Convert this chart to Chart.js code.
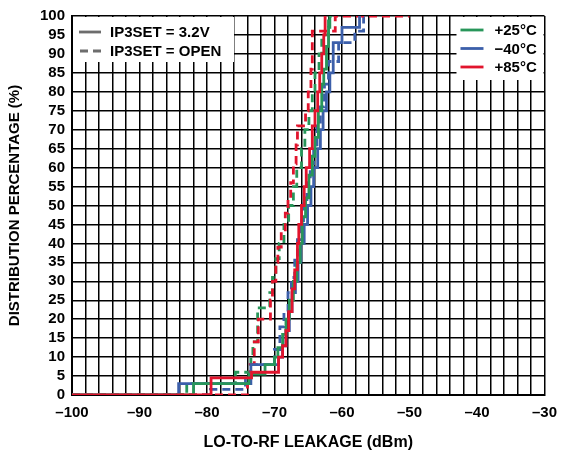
<!DOCTYPE html>
<html>
<head>
<meta charset="utf-8">
<script src="https://cdn.jsdelivr.net/npm/chart.js@4.4.1/dist/chart.umd.min.js"></script>
<style>
  html, body { margin: 0; padding: 0; background: #fff; }
  #wrap { width: 566px; height: 452px; position: relative; }
</style>
</head>
<body>
<div id="wrap"><canvas id="myChart" width="566" height="452"></canvas></div>
<script>
// Step CDF data (x = leakage dBm, y = cumulative %)
const green32X = [-100, -82, -73.8, -71.4, -70, -69.5, -68.8, -68.3, -67.8, -67.2, -66.7, -66.2, -65.9, -65.4, -64.9, -64.4, -64, -63.5, -63, -62.7, -62.3, -62, -61.8];
const green32Y = [0, 3, 5.5, 8, 10, 12.5, 16, 20, 25, 30, 35, 40, 47, 52, 58, 63, 68, 75, 82, 86, 92, 97, 100];

const blue32X = [-100, -84.2, -73.5, -69.4, -68.8, -68.3, -67.8, -67.4, -66.9, -66.5, -66.1, -65.6, -65.1, -64.6, -64.2, -63.6, -63.2, -62.8, -62.3, -61.8, -61.3, -60, -57.4];
const blue32Y = [0, 3, 8, 10, 13, 17, 22, 27, 30, 35, 40, 45, 50, 55, 60, 65, 70, 75, 80, 85, 93, 97, 100];

const red32X = [-100, -79.4, -73.4, -69.4, -68.8, -68.3, -67.9, -67.4, -67, -66.6, -66.4, -66, -65.6, -65.3, -64.8, -64.4, -64, -63.6, -63.3, -63, -62.7, -62.5, -62.3];
const red32Y = [0, 4.5, 6, 10, 13, 17, 22, 28, 33, 40, 45, 50, 55, 60, 65, 71, 75, 80, 85, 90, 95, 100, 100];

const greenOpenX = [-100, -83, -75.8, -73.5, -73.2, -72.5, -70.7, -70.3, -69.8, -69.3, -68.6, -67.9, -67.2, -66.7, -66, -65.5, -64.9, -64.4, -64, -63.4, -63, -62, -61.5];
const greenOpenY = [0, 3, 6, 10, 14, 23, 27, 31, 36, 40, 45, 50, 55, 60, 65, 70, 75, 80, 85, 90, 95, 100, 100];

const blueOpenX = [-100, -79.5, -74.3, -73.5, -70, -69.2, -68.6, -68, -67.5, -67, -66.6, -66.2, -65.7, -65.2, -64.7, -64.2, -63.7, -63.2, -62.6, -62, -60.5, -58.1, -56.8];
const blueOpenY = [0, 1.5, 4, 8, 12, 18, 22, 27, 31, 36, 41, 46, 51, 56, 61, 66, 71, 76, 82, 88, 93, 96, 100];

const redOpenX = [-100, -74, -73.6, -73, -72.4, -70.6, -70.3, -69.8, -69.5, -69, -68.4, -68, -67.6, -67.2, -66.8, -66.6, -65.4, -65, -64.6, -64.4, -61, -50];
const redOpenY = [0, 3, 8, 14, 20, 25, 30, 35, 39, 43, 48, 52, 56, 61, 66, 71, 75, 80, 86, 96, 100, 100];

const xTickLabels = [-100, -90, -80, -70, -60, -50, -40, -30];

const GREEN = "rgb(40, 150, 90)";
const BLUE = "rgb(60, 95, 170)";
const RED = "rgb(225, 20, 45)";
const FAMILY = "'Liberation Sans', Arial, sans-serif";

function pts(xs, ys) {
  return xs.map((x, i) => ({ x: x, y: ys[i] }));
}

function series(label, xs, ys, color, dashed) {
  return {
    label: label,
    data: pts(xs, ys),
    borderColor: color,
    backgroundColor: color,
    borderWidth: 2.8,
    borderDash: dashed ? [8, 5] : [],
    stepped: "before",
    pointRadius: 0,
    fill: false,
  };
}

const fontBold = { family: FAMILY, weight: "bold", size: 15 };

// Legend boxes drawn over the grid
const legendBoxes = {
  id: "legendBoxes",
  afterDatasetsDraw(chart) {
    const ctx = chart.ctx;
    const a = chart.chartArea;
    ctx.save();
    ctx.fillStyle = "#fff";
    ctx.fillRect(a.left + 1, a.top + 1, 161, 45);
    ctx.fillRect(a.right - 88, a.top + 1, 87, 63);
    ctx.font = "bold 15px " + FAMILY;
    ctx.textBaseline = "middle";
    ctx.lineWidth = 2.8;
    // line style legend
    ctx.strokeStyle = "#6d6d6d";
    ctx.setLineDash([]);
    ctx.beginPath(); ctx.moveTo(a.left + 7, a.top + 16); ctx.lineTo(a.left + 29, a.top + 16); ctx.stroke();
    ctx.setLineDash([8, 5]);
    ctx.beginPath(); ctx.moveTo(a.left + 8, a.top + 35); ctx.lineTo(a.left + 30, a.top + 35); ctx.stroke();
    ctx.setLineDash([]);
    ctx.fillStyle = "#000";
    ctx.fillText("IP3SET = 3.2V", a.left + 38, a.top + 17);
    ctx.fillText("IP3SET = OPEN", a.left + 38, a.top + 36);
    // temperature legend
    const temps = [["+25°C", GREEN], ["\u221240°C", BLUE], ["+85°C", RED]];
    temps.forEach((t, i) => {
      const y = a.top + 14 + i * 18.5;
      ctx.strokeStyle = t[1];
      ctx.beginPath(); ctx.moveTo(a.right - 84, y); ctx.lineTo(a.right - 61, y); ctx.stroke();
      ctx.fillStyle = "#000";
      ctx.fillText(t[0], a.right - 50, y + 1);
    });
    ctx.restore();
  },
};

const data = {
  datasets: [
    series("+85°C 3.2V", red32X, red32Y, RED, false),
    series("+25°C 3.2V", green32X, green32Y, GREEN, false),
    series("−40°C 3.2V", blue32X, blue32Y, BLUE, false),
    series("+85°C OPEN", redOpenX, redOpenY, RED, true),
    series("+25°C OPEN", greenOpenX, greenOpenY, GREEN, true),
    series("−40°C OPEN", blueOpenX, blueOpenY, BLUE, true),
  ],
};

const config = {
  type: "line",
  data: data,
  options: {
    responsive: false,
    animation: false,
    layout: { padding: { left: 6, right: 16, top: 14, bottom: 0 } },
    scales: {
      x: {
        type: "linear",
        min: -100,
        max: -30,
        afterFit: (s) => { s.height = 57; },
        ticks: {
          stepSize: 2,
          autoSkip: false,
          maxRotation: 0,
          padding: 9,
          color: "#000",
          font: fontBold,
          callback: (v) => (xTickLabels.includes(v) ? "\u2013" + Math.abs(v) : ""),
        },
        grid: { color: "#000", lineWidth: 1.5, drawTicks: false },
        border: { color: "#000", width: 2 },
        title: {
          display: true,
          text: "LO-TO-RF LEAKAGE (dBm)",
          color: "#000",
          font: { family: FAMILY, weight: "bold", size: 16 },
          padding: { top: 9, bottom: 0 },
        },
      },
      y: {
        min: 0,
        max: 100,
        afterFit: (s) => { s.width = 66; },
        ticks: {
          stepSize: 5,
          autoSkip: false,
          padding: 7,
          color: "#000",
          font: fontBold,
        },
        grid: { color: "#000", lineWidth: 1.5, drawTicks: false },
        border: { color: "#000", width: 2 },
        title: {
          display: true,
          text: "DISTRIBUTION PERCENTAGE (%)",
          color: "#000",
          font: { family: FAMILY, weight: "bold", size: 15 },
          padding: { top: 0, bottom: 0 },
        },
      },
    },
    plugins: {
      legend: { display: false },
      tooltip: { enabled: false },
    },
  },
  plugins: [legendBoxes],
};

myChart = new Chart(document.getElementById("myChart"), config);
</script>
</body>
</html>
